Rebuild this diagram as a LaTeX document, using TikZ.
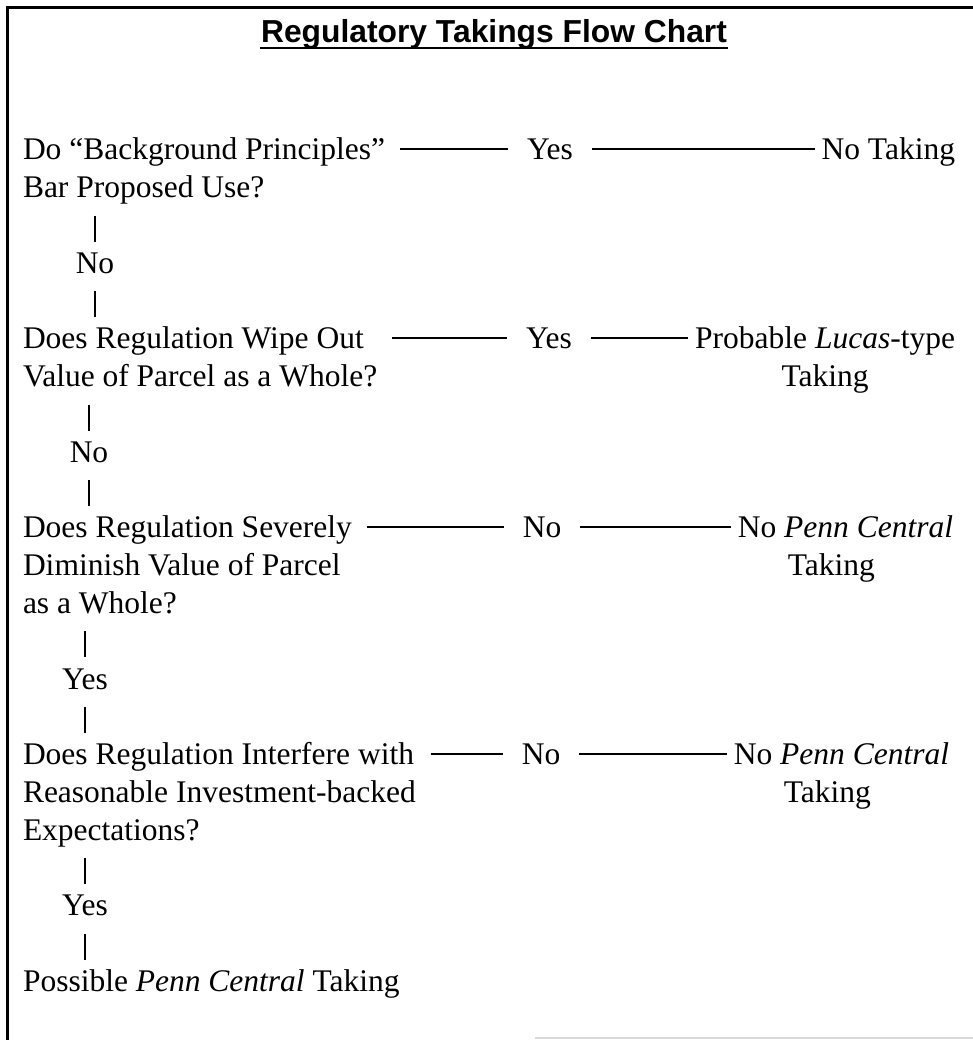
\documentclass[tikz,border=0pt]{standalone}
\usepackage{fontspec}
\setmainfont{Liberation Serif}
\newfontfamily\titlefont{Liberation Sans}
\usepackage{tikz}

\begin{document}
\begin{tikzpicture}[x=1pt,y=-1pt,line width=2pt,
                    every node/.style={inner sep=0pt,
                      font=\fontsize{31.5}{37.8}\selectfont,
                      execute at begin node=\strut,execute at end node=\strut},
                    question/.style={anchor=north west,align=left},
                    answer/.style={anchor=north},
                    result/.style={anchor=north east,align=center},
                    hline/.style={shorten <=14pt,shorten >=18pt},
                    hlineb/.style={shorten <=18pt,shorten >=6pt},
                    tick/.style={line width=1.6pt,shorten <=5.5pt,shorten >=4.3pt}]
  \useasboundingbox (0,0) rectangle (973,1040);

  % frame
  \draw[line width=3pt] (7,1040) -- (7,8) -- (973,8);
  \draw[gray!30,line width=2pt] (535,1038) -- (973,1038);

  \node[anchor=base,font=\fontsize{31.8}{38}\selectfont\titlefont\bfseries]
        (title) at (494,43) {Regulatory Takings Flow Chart};
  \draw[line width=2.5pt] ([yshift=-5pt]title.base west) -- ([yshift=-5pt]title.base east);

  \node[question] (q1) at (22,132.5)  {\strut Do “Background Principles”\\Bar Proposed Use?};
  \node[answer]   (y1) at (550,132.5) {Yes};
  \node[result]   (r1) at (956,132.5) {No Taking};
  \node[answer]   (n1) at (95,245.9)  {No};

  \node[question] (q2) at (22,321.5)  {\strut Does Regulation Wipe Out\\Value of Parcel as a Whole?};
  \node[answer]   (y2) at (549,321.5) {Yes};
  \node[result]   (r2) at (956,321.5) {\strut Probable \textit{Lucas}-type\\Taking};
  \node[answer]   (n2) at (89,434.9)  {No};

  \node[question] (q3) at (22,510.5)  {\strut Does Regulation Severely\\Diminish Value of Parcel\\as a Whole?};
  \node[answer]   (n3) at (542,510.5) {No};
  \node[result]   (r3) at (954,510.5) {\strut No \textit{Penn Central}\\Taking\hspace*{28pt}};
  \node[answer]   (y3) at (85,661.7)  {Yes};

  \node[question] (q4) at (22,737.3)  {\strut Does Regulation Interfere with\\Reasonable Investment-backed\\Expectations?};
  \node[answer]   (n4) at (541,737.3) {No};
  \node[result]   (r4) at (950,737.3) {\strut No \textit{Penn Central}\\Taking\hspace*{28pt}};
  \node[answer]   (y4) at (85,888.5)  {Yes};

  \node[question] (p)  at (22,964.1)  {Possible \textit{Penn Central} Taking};

  % rows
  \path ([yshift=-16.5pt]q1.north east) edge[hline]  ([yshift=-16.5pt]y1.north west)
        ([yshift=-16.5pt]y1.north east) edge[hlineb] ([yshift=-16.5pt]r1.north west)
        ([yshift=-16.5pt]q2.north east) edge[hline]  ([yshift=-16.5pt]y2.north west)
        ([yshift=-16.5pt]y2.north east) edge[hlineb] ([yshift=-16.5pt]r2.north west)
        ([yshift=-16.5pt]q3.north east) edge[hline]  ([yshift=-16.5pt]n3.north west)
        ([yshift=-16.5pt]n3.north east) edge[hlineb] ([yshift=-16.5pt]r3.north west)
        ([yshift=-16.5pt]q4.north east) edge[hline]  ([yshift=-16.5pt]n4.north west)
        ([yshift=-16.5pt]n4.north east) edge[hlineb] ([yshift=-16.5pt]r4.north west);

  % column
  \path (q1.south -| n1) edge[tick] (n1.north)
        (n1.south)       edge[tick] (q2.north -| n1)
        (q2.south -| n2) edge[tick] (n2.north)
        (n2.south)       edge[tick] (q3.north -| n2)
        (q3.south -| y3) edge[tick] (y3.north)
        (y3.south)       edge[tick] (q4.north -| y3)
        (q4.south -| y4) edge[tick] (y4.north)
        (y4.south)       edge[tick] (p.north -| y4);
\end{tikzpicture}
\end{document}
